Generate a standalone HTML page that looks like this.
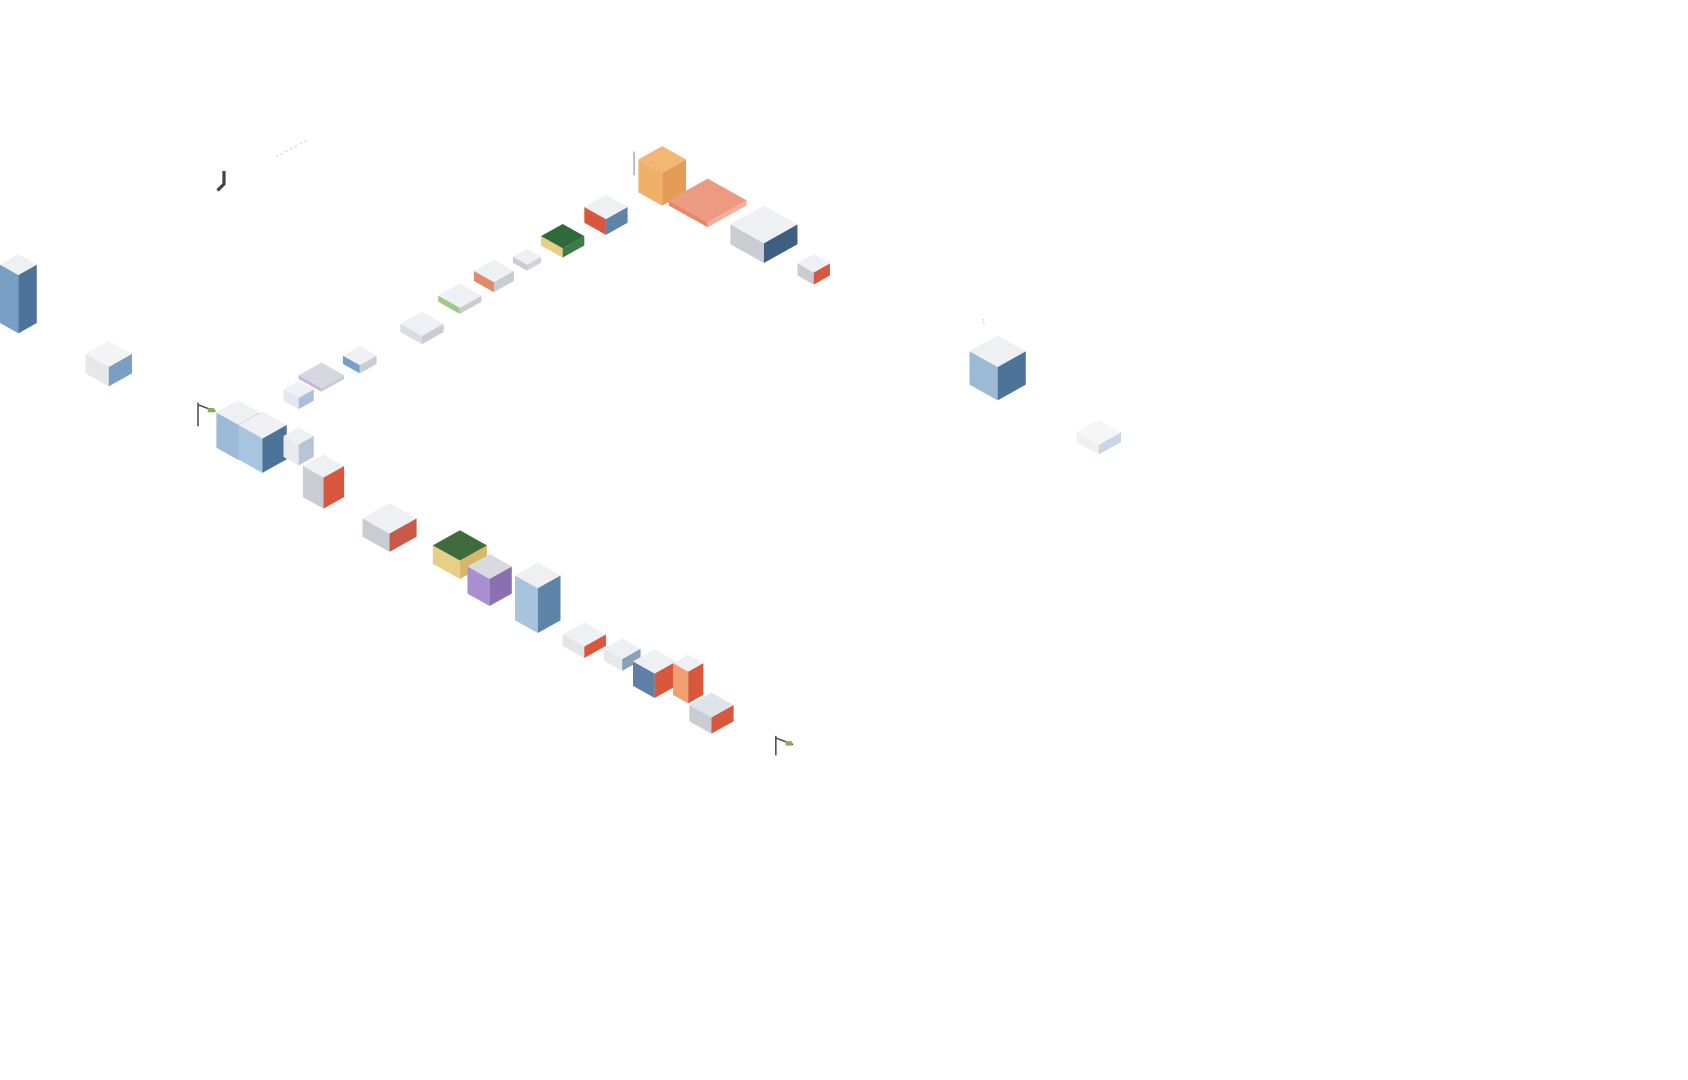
<!DOCTYPE html>
<html><head><meta charset="utf-8"><style>
html,body{margin:0;padding:0;background:#fff;width:1688px;height:1080px;overflow:hidden}
svg{display:block}
</style></head><body>
<svg id="s" width="1688" height="1080" viewBox="0 0 1560 998" xmlns="http://www.w3.org/2000/svg">
<line x1="255" y1="145" x2="283" y2="130" stroke="#ccc" stroke-width="1" stroke-dasharray="2,3"/>
<path d="M207 158 v12 l-6 6" stroke="#444" stroke-width="3" fill="none"/>
<path d="M183 372 v22 M183 374 l16 6" stroke="#555" stroke-width="1.5" fill="none"/>
<rect x="192" y="377" width="6" height="4" fill="#8a6"/>
<path d="M717 680 v18 M717 682 l16 6" stroke="#555" stroke-width="1.5" fill="none"/>
<rect x="726" y="685" width="6" height="4" fill="#8a6"/>
<path d="M586 140 v22" stroke="#888" stroke-width="1" fill="none"/>
<path d="M908 295 l2 6" stroke="#ad6" stroke-width="1.5" stroke-dasharray="1,2"/>
</svg>
<script>
var s=document.getElementById('s');
function box(x,y,w,h,roof,l,r){
 var x2=x+w,m=x+w/2,k=w*0.28,ns='http://www.w3.org/2000/svg';
 function p(pts,c){var e=document.createElementNS(ns,'polygon');e.setAttribute('points',pts);e.setAttribute('fill',c);s.appendChild(e);}
 p([x,y+k,m,y+2*k,m,y+h,x,y+h-k].join(' '),l);
 p([m,y+2*k,x2,y+k,x2,y+h-k,m,y+h].join(' '),r);
 p([m,y,x2,y+k,m,y+2*k,x,y+k].join(' '),roof);
}
var W='#eef0f3',B='#7a9fc4',BD='#4e7399',R='#d9583d',G='#c9ccd3';
[
[0,235,34,73,W,B,BD],
[79,315,43,42,'#f4f4f4','#e6e8ec',B],
[200,370,40,55,W,'#9cb9d6',BD],
[220,380,45,57,W,'#a9c4de',BD],
[262,395,28,35,W,'#e8eaee','#b7c6d6'],
[280,420,38,50,W,G,R],
[335,465,50,45,W,G,'#c95a48'],
[400,490,50,45,'#3e6a3c','#e8cf88','#d9b56a'],
[432,512,41,48,'#d8dadf','#a98fcf','#8a70b0'],
[476,520,42,65,W,'#a8c3de','#5f84aa'],
[520,575,40,33,W,'#e2e4e8',R],
[558,590,34,30,W,'#e6e8ec','#8aa0b8'],
[585,600,40,45,W,'#5f7fa6',R],
[622,605,28,45,W,'#f0a070','#d9583d'],
[637,640,41,38,'#dfe3ea',G,R],
[262,352,28,26,W,'#e4e8ee','#a8c0da'],
[276,335,42,27,'#d6d8e0','#c8b8e0',G],
[317,320,31,25,W,B,G],
[370,288,40,30,W,'#d8dce4',G],
[405,262,40,28,W,'#9ccb88',G],
[438,240,37,30,W,'#e08a6a',G],
[474,230,26,20,W,G,'#cfd3da'],
[500,207,40,31,'#2f6a3a','#e8cf88','#3f7a48'],
[540,180,40,37,W,R,'#5f84aa'],
[590,135,44,55,'#f2b873','#f0b06a','#e39d58'],
[618,165,72,45,'#ec9a80','#e8866a','#f0b0a0'],
[675,190,62,53,W,G,'#3f5f80'],
[737,235,30,28,W,G,R],
[896,310,52,60,W,'#9cb9d6',BD],
[995,388,41,32,'#f6f6f6','#f0f0f0','#c8d6e6']
].forEach(function(a){box.apply(null,a)});
</script>
</body></html>
